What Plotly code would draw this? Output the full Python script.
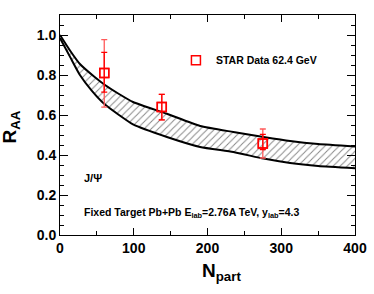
import plotly.graph_objects as go

# Theory band (hatched)
band_n = [0, 14, 27, 47, 61, 80, 99, 145, 190, 235, 276, 312, 350, 400]
band_upper = [1.0, 0.92, 0.855, 0.79, 0.75, 0.705, 0.665, 0.606, 0.545, 0.515, 0.49, 0.47, 0.455, 0.443]
band_n_low = [0, 14, 27, 43, 61, 80, 99, 145, 190, 235, 276, 312, 350, 400]
band_lower = [0.985, 0.888, 0.80, 0.722, 0.652, 0.60, 0.553, 0.49, 0.44, 0.415, 0.382, 0.36, 0.345, 0.334]

# STAR data
star_n = [60, 138, 275]
star_raa = [0.81, 0.64, 0.457]
star_sys_up = [0.167, 0.063, 0.073]
star_sys_dn = [0.171, 0.064, 0.072]
star_stat_up = [0.103, 0.063, 0.046]
star_stat_dn = [0.096, 0.064, 0.03]
star_marker_colors = ["#ff8c8c", "red", "red"]

FONT = "Liberation Sans, Arial, sans-serif"

fig = go.Figure()

fig.add_trace(go.Scatter(x=band_n_low, y=band_lower, mode="lines",
                         line=dict(color="black", width=2, shape="spline", smoothing=0.5),
                         showlegend=False, hoverinfo="skip"))
fig.add_trace(go.Scatter(x=band_n, y=band_upper, mode="lines",
                         line=dict(color="black", width=2, shape="spline", smoothing=0.5),
                         fill="tonexty", fillcolor="rgba(0,0,0,0)",
                         fillpattern=dict(shape="/", fgcolor="#111111", bgcolor="white",
                                          size=5, solidity=0.2),
                         showlegend=False, hoverinfo="skip"))

# outer (caps) error bars
fig.add_trace(go.Scatter(x=star_n, y=star_raa, mode="markers",
                         marker=dict(symbol="square-open", size=9, color="red",
                                     line=dict(width=1.5, color=star_marker_colors)),
                         error_y=dict(type="data", symmetric=False, array=star_sys_up,
                                      arrayminus=star_sys_dn, color="#ff5a5a", thickness=1.3, width=3),
                         showlegend=False))
# inner ticks
fig.add_trace(go.Scatter(x=star_n, y=star_raa, mode="markers",
                         marker=dict(symbol="square-open", size=9, color="red",
                                     line=dict(width=1.5, color=star_marker_colors)),
                         error_y=dict(type="data", symmetric=False, array=star_stat_up,
                                      arrayminus=star_stat_dn, color="red", thickness=1.3, width=3),
                         name="STAR Data 62.4 GeV", showlegend=True))

fig.update_layout(
    width=374, height=294,
    margin=dict(l=60, r=19, t=15, b=59, autoexpand=False),
    paper_bgcolor="white", plot_bgcolor="white",
    font=dict(family=FONT, color="black"),
    showlegend=True,
    legend=dict(x=0.393, y=0.794, xanchor="left", yanchor="middle",
                bgcolor="rgba(0,0,0,0)", font=dict(size=10.5, family=FONT, weight="bold"),
                itemwidth=30),
    annotations=[
        dict(text="<b>J/Ψ</b>", x=0.075, y=0.26, xref="paper", yref="paper",
             xanchor="left", yanchor="middle", showarrow=False, font=dict(size=11, family=FONT)),
        dict(text="<b>Fixed Target Pb+Pb E<sub>lab</sub>=2.76A TeV, y<sub>lab</sub>=4.3</b>",
             x=0.075, y=0.10, xref="paper", yref="paper",
             xanchor="left", yanchor="middle", showarrow=False, font=dict(size=10.5, family=FONT)),
        dict(text="<b>N<sub>part</sub></b>", x=219, y=-0.105, xref="x", yref="paper",
             xanchor="center", yanchor="top", showarrow=False, font=dict(size=19, family=FONT)),
        dict(text="<b>R<sub>AA</sub></b>", x=-0.165, y=0.49, xref="paper", yref="paper",
             xanchor="center", yanchor="middle", textangle=-90, showarrow=False,
             font=dict(size=19, family=FONT)),
    ],
)

fig.update_xaxes(range=[0, 400], dtick=100, tick0=0, ticks="inside", ticklen=7,
                 tickcolor="black", showline=True, linecolor="black", linewidth=1,
                 mirror="ticks", showgrid=False, zeroline=False, automargin=False,
                 tickfont=dict(size=14, family=FONT, weight="bold"),
                 minor=dict(dtick=50, ticks="inside", ticklen=4, tickcolor="black", showgrid=False))
fig.update_yaxes(range=[0, 1.1], dtick=0.2, tick0=0, tickformat=".1f", ticks="inside", ticklen=8,
                 tickcolor="black", showline=True, linecolor="black", linewidth=1,
                 mirror="ticks", showgrid=False, zeroline=False, automargin=False,
                 tickfont=dict(size=14, family=FONT, weight="bold"),
                 minor=dict(dtick=0.05, ticks="inside", ticklen=4, tickcolor="black", showgrid=False))

fig.write_html("out.html", config={"displayModeBar": False},
               post_script="document.body.style.margin='0';document.body.style.padding='0';")
